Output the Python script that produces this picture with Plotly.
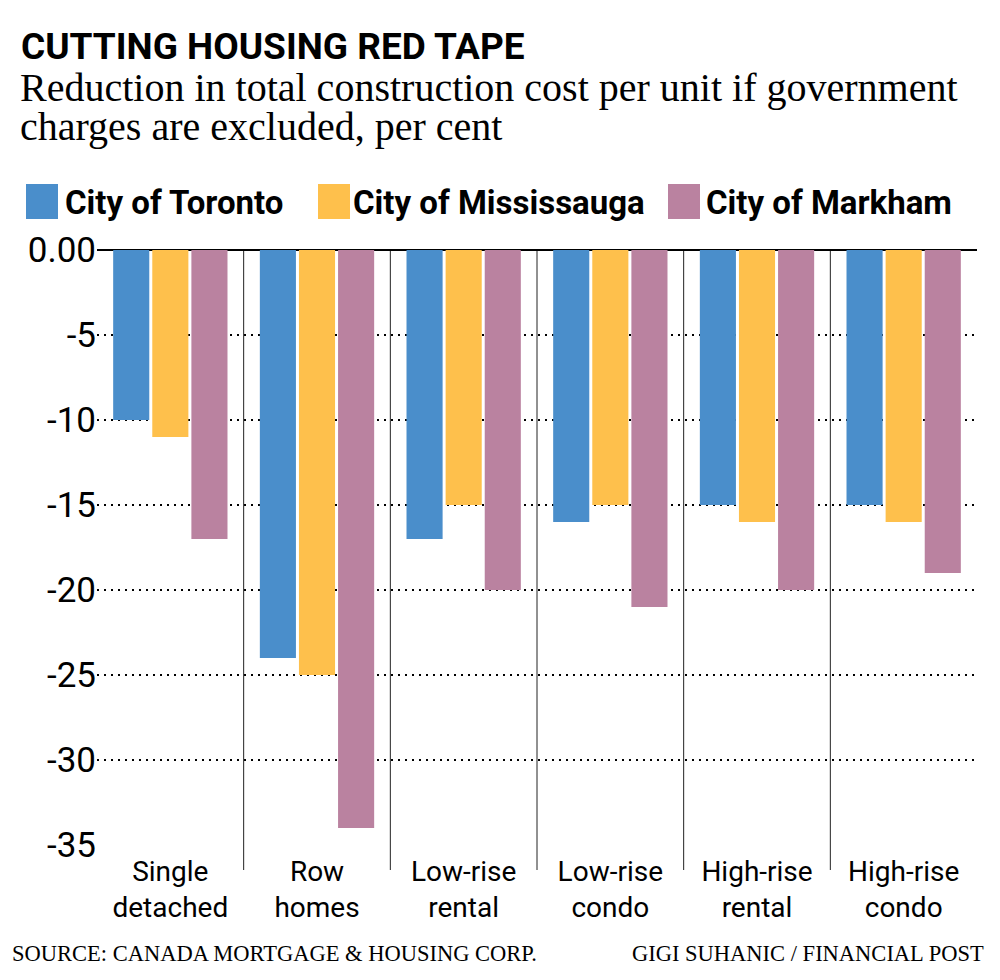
import plotly.graph_objects as go

categories = ["Single<br>detached", "Row<br>homes", "Low-rise<br>rental", "Low-rise<br>condo", "High-rise<br>rental", "High-rise<br>condo"]
series_names = ["City of Toronto", "City of Mississauga", "City of Markham"]
toronto = [-10, -24, -17, -16, -15, -15]
mississauga = [-11, -25, -15, -15, -16, -16]
markham = [-17, -34, -20, -21, -20, -19]
y_tickvals = [0, -5, -10, -15, -20, -25, -30, -35]
y_ticktext = ["0.00", "-5", "-10", "-15", "-20", "-25", "-30", "-35"]

colors = ["#4A8ECB", "#FEC04C", "#BA82A0"]
W, H = 1000, 980
SANS = "Roboto"
SERIF = "Liberation Serif"

def px(x):
    return x / W

def py(y):
    return 1 - y / H

fig = go.Figure()
for name, vals, c in zip(series_names, [toronto, mississauga, markham], colors):
    fig.add_trace(go.Bar(x=categories, y=vals, name=name, marker_color=c,
                         marker_line_width=0, showlegend=False))

shapes = []
# vertical separators between categories
for i in range(len(categories) - 1):
    shapes.append(dict(type="line", xref="x", yref="paper", x0=i + 0.5, x1=i + 0.5,
                       y0=py(251), y1=py(870), line=dict(color="#222", width=1)))
# legend squares
leg_sq_x = [26, 318, 668]
leg_txt_x = [63, 351, 704]
for sx, c in zip(leg_sq_x, colors):
    shapes.append(dict(type="rect", xref="paper", yref="paper", x0=px(sx), x1=px(sx + 32),
                       y0=py(219), y1=py(184), fillcolor=c, line=dict(width=0)))

annotations = [
    dict(text="<b>CUTTING HOUSING RED TAPE</b>", x=px(19), y=py(23), xanchor="left", yanchor="top",
         font=dict(family=SANS, size=37, color="black")),
    dict(text="Reduction in total construction cost per unit if government", x=px(18), y=py(63),
         xanchor="left", yanchor="top", font=dict(family=SERIF, size=40, color="black")),
    dict(text="charges are excluded, per cent", x=px(18), y=py(102),
         xanchor="left", yanchor="top", font=dict(family=SERIF, size=40, color="black")),
    dict(text="SOURCE: CANADA MORTGAGE &amp; HOUSING CORP.", x=px(10), y=py(968),
         xanchor="left", yanchor="bottom", font=dict(family=SERIF, size=22.5, color="black")),
    dict(text="GIGI SUHANIC / FINANCIAL POST", x=px(986), y=py(968),
         xanchor="right", yanchor="bottom", font=dict(family=SERIF, size=22.5, color="black")),
]
for tx, name in zip(leg_txt_x, series_names):
    annotations.append(dict(text="<b>" + name + "</b>", x=px(tx), y=py(202), xanchor="left", yanchor="middle",
                            font=dict(family=SANS, size=33, color="black")))
for a in annotations:
    a.update(xref="paper", yref="paper", showarrow=False)

fig.update_layout(
    width=W, height=H,
    margin=dict(l=0, r=0, t=0, b=0),
    paper_bgcolor="white", plot_bgcolor="white",
    barmode="group", bargap=0.2, bargroupgap=0.077,
    shapes=shapes, annotations=annotations,
    xaxis=dict(domain=[px(97), px(977)], type="category", showgrid=False, ticks="",
               showline=False, automargin=False, tickangle=0, ticklabelstandoff=7,
               tickfont=dict(family=SANS, size=28, color="black")),
    yaxis=dict(domain=[py(845), py(250)], range=[-35, 0], tickvals=y_tickvals, ticktext=y_ticktext,
               showgrid=True, gridcolor="black", gridwidth=2, griddash="2px,5px",
               zeroline=True, zerolinecolor="black", zerolinewidth=2,
               ticks="", showline=False, automargin=False,
               tickfont=dict(family=SANS, size=35, color="black")),
)

fig.write_html("out.html")
